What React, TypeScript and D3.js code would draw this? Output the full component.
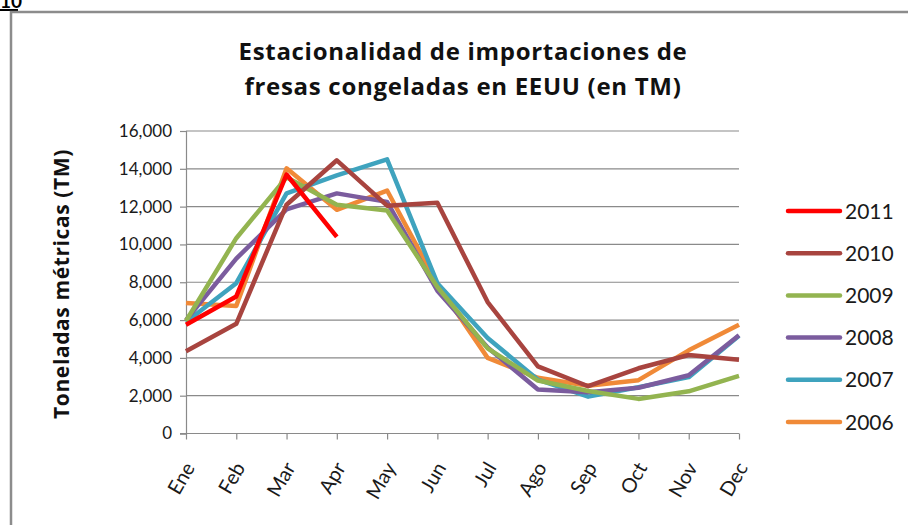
import React, { useEffect, useRef } from 'react';
import * as d3 from 'd3';

const months = ['Ene', 'Feb', 'Mar', 'Apr', 'May', 'Jun', 'Jul', 'Ago', 'Sep', 'Oct', 'Nov', 'Dec'];
const yTicks = [0, 2000, 4000, 6000, 8000, 10000, 12000, 14000, 16000];

const years = ['2011', '2010', '2009', '2008', '2007', '2006'];
const colors = ['#FF0000', '#A8443F', '#93B450', '#7B5C9E', '#3FA3BE', '#F08A38'];

const v2011 = [5750, 7250, 13700, 10400];
const v2010 = [4350, 5800, 12100, 14450, 12050, 12200, 6950, 3550, 2500, 3450, 4150, 3900];
const v2009 = [5950, 10330, 13550, 12100, 11800, 7750, 4500, 2800, 2250, 1830, 2230, 3050];
const v2008 = [6000, 9250, 11850, 12700, 12250, 7550, 4550, 2330, 2180, 2420, 3080, 5200];
const v2007 = [5900, 7950, 12700, 13650, 14500, 7950, 5050, 2850, 1950, 2450, 2980, 5170];
const v2006 = [6900, 6750, 14030, 11830, 12850, 7900, 4000, 2950, 2530, 2820, 4400, 5750];

const series = [v2011, v2010, v2009, v2008, v2007, v2006];

const App = () => {
  const ref = useRef<SVGSVGElement>(null);

  useEffect(() => {
    const svg = d3.select(ref.current);
    svg.selectAll('*').remove();
    const font = 'Lato, "Open Sans", sans-serif';
    const boldFont = '"Open Sans", Lato, sans-serif';

    svg.append('rect').attr('width', 908).attr('height', 525).attr('fill', '#fff');

    // bit of the spreadsheet cell above the chart (cut off in the original too)
    svg.append('text').attr('x', 0).attr('y', 8).attr('font-family', font)
      .attr('font-weight', 'bold').attr('font-size', 19).attr('fill', '#000').text('10');
    svg.append('rect').attr('x', 0).attr('y', 9).attr('width', 18).attr('height', 2).attr('fill', '#000');

    // chart frame
    svg.append('path').attr('d', 'M11,525 V12 H908').attr('fill', 'none')
      .attr('stroke', '#8c8c8c').attr('stroke-width', 2.5);

    const x = d3.scalePoint<string>().domain(months).range([186, 739]);
    const y = d3.scaleLinear().domain([0, 16000]).range([433.5, 131]);

    // gridlines
    svg.append('g').selectAll('line').data(yTicks.slice(1)).enter().append('line')
      .attr('x1', 186).attr('x2', 739)
      .attr('y1', d => y(d)).attr('y2', d => y(d))
      .attr('stroke', '#8a8a8a').attr('stroke-width', 1.2);

    // y axis
    const yAxis = svg.append('g').attr('transform', 'translate(186,0)')
      .call(d3.axisLeft(y).tickValues(yTicks).tickSize(6).tickPadding(8).tickFormat(d3.format(',')));
    yAxis.select('.domain').attr('stroke', '#8a8a8a').attr('stroke-width', 1.2);
    yAxis.selectAll('.tick line').attr('stroke', '#8a8a8a').attr('stroke-width', 1.2);
    yAxis.selectAll('.tick text').attr('font-family', font).attr('font-size', 17).attr('fill', '#1a1a1a');

    // x axis
    const xAxis = svg.append('g').attr('transform', 'translate(0,433.5)')
      .call(d3.axisBottom(x).tickSize(6).tickSizeOuter(0));
    xAxis.select('.domain').attr('stroke', '#8a8a8a').attr('stroke-width', 1.2).attr('d', 'M180,0H739');
    xAxis.selectAll('.tick line').attr('stroke', '#8a8a8a').attr('stroke-width', 1.2);
    xAxis.selectAll('.tick text')
      .attr('font-family', font).attr('font-size', 20).attr('fill', '#1a1a1a')
      .attr('text-anchor', 'end').attr('dy', null).attr('y', 0).attr('x', 0)
      .attr('transform', 'translate(9,34) rotate(-60)');

    // lines, oldest drawn first
    const line = d3.line<number>().x((d, i) => x(months[i]) as number).y(d => y(d));
    const order = [5, 4, 3, 2, 1, 0];
    svg.append('g').selectAll('path').data(order).enter().append('path')
      .attr('d', i => line(series[i]))
      .attr('fill', 'none').attr('stroke', i => colors[i])
      .attr('stroke-width', 4.5).attr('stroke-linejoin', 'round');

    // legend
    const leg = svg.append('g').selectAll('g').data(years).enter().append('g')
      .attr('transform', (d, i) => `translate(788,${211 + i * 42.2})`);
    leg.append('line').attr('x1', 0).attr('x2', 52)
      .attr('stroke', (d, i) => colors[i]).attr('stroke-width', 4.5).attr('stroke-linecap', 'round');
    leg.append('text').attr('x', 57).attr('y', 7.5).attr('font-family', font)
      .attr('font-size', 21).attr('fill', '#1a1a1a').text(d => d);

    // title
    svg.append('text').attr('x', 463).attr('y', 59.5).attr('text-anchor', 'middle')
      .attr('font-family', boldFont).attr('font-weight', 'bold').attr('font-size', 24)
      .attr('letter-spacing', 0.7).attr('fill', '#111')
      .text('Estacionalidad de importaciones de');
    svg.append('text').attr('x', 463).attr('y', 95).attr('text-anchor', 'middle')
      .attr('font-family', boldFont).attr('font-weight', 'bold').attr('font-size', 24)
      .attr('letter-spacing', 0.7).attr('fill', '#111')
      .text('fresas congeladas en EEUU (en TM)');

    svg.append('text').attr('transform', 'translate(69,284) rotate(-90)').attr('text-anchor', 'middle')
      .attr('font-family', boldFont).attr('font-weight', 'bold').attr('font-size', 21)
      .attr('letter-spacing', 0.6).attr('fill', '#111')
      .text('Toneladas métricas (TM)');
  }, []);

  return (
    <svg ref={ref} width={908} height={525}
      style={{ position: 'absolute', left: 0, top: 0, display: 'block' }} />
  );
};

export default App;
